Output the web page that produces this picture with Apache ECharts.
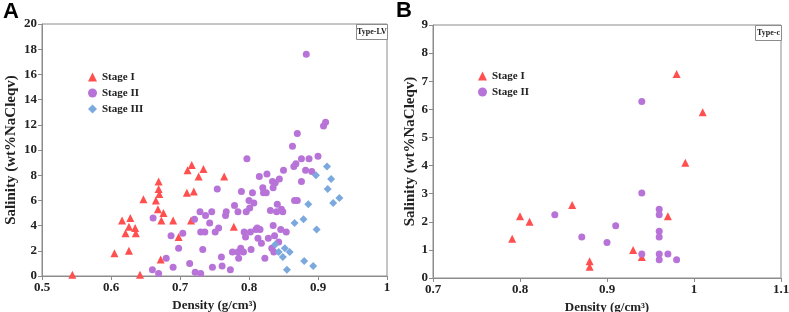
<!DOCTYPE html>
<html>
<head>
<meta charset="utf-8">
<script src="https://cdn.jsdelivr.net/npm/echarts@6/dist/echarts.min.js"></script>
<style>
    html, body {margin: 0; padding: 0; background: #fff;}
    #chart {width: 789px; height: 312px;}
</style>
</head>
<body>
<div id="chart"></div>
<script>
    // 图A：Type-LV 包裹体 [密度, 盐度]
    var stage1LV = [[0.544,0.1],[0.605,1.8],[0.616,4.4],[0.628,4.6],[0.626,3.9],[0.621,3.4],[0.635,3.8],[0.636,3.4],
        [0.626,2.0],[0.647,6.1],[0.642,0.1],[0.665,6.0],[0.669,7.5],[0.669,6.9],[0.670,6.5],[0.668,5.3],[0.676,5.0],
        [0.673,4.4],[0.672,1.3],[0.690,4.4],[0.698,3.1],[0.710,6.6],[0.711,8.4],[0.717,8.8],[0.727,7.9],[0.734,8.5],
        [0.720,6.7],[0.716,4.4],[0.764,7.9],[0.778,3.9]];
    var stage2LV = [[0.661,4.6],[0.660,0.5],[0.669,0.2],[0.680,1.4],[0.687,3.2],[0.690,0.7],[0.698,2.2],[0.704,3.4],
        [0.714,1.0],[0.721,4.5],[0.722,0.3],[0.729,5.1],[0.730,0.2],[0.730,3.5],[0.736,3.5],[0.733,2.1],[0.737,4.8],
        [0.743,4.2],[0.746,5.1],[0.747,0.7],[0.751,3.5],[0.754,6.9],[0.756,3.8],[0.760,1.5],[0.761,0.8],[0.766,4.8],
        [0.767,5.1],[0.773,0.5],[0.776,1.9],[0.779,5.6],[0.784,1.9],[0.785,1.4],[0.784,5.1],[0.788,2.2],[0.789,6.7],
        [0.792,1.9],[0.793,3.5],[0.795,3.1],[0.796,5.1],[0.797,9.3],[0.800,6.0],[0.801,5.4],[0.802,3.5],[0.803,2.1],
        [0.805,6.6],[0.807,5.8],[0.810,3.7],[0.812,3.8],[0.813,3.0],[0.815,7.9],[0.816,3.7],[0.818,2.6],[0.820,7.0],
        [0.821,6.6],[0.823,1.4],[0.825,6.6],[0.826,8.1],[0.828,3.0],[0.831,5.2],[0.833,2.2],[0.834,7.5],[0.835,7.0],
        [0.835,4.0],[0.836,1.9],[0.837,3.2],[0.838,7.4],[0.840,5.1],[0.841,5.7],[0.843,2.7],[0.844,7.7],[0.846,3.7],
        [0.847,5.3],[0.849,5.1],[0.850,8.4],[0.854,3.5],[0.863,10.3],[0.865,8.7],[0.866,6.0],[0.868,8.9],[0.870,6.0],
        [0.870,11.3],[0.876,7.5],[0.876,9.3],[0.882,8.4],[0.883,17.6],[0.887,9.3],[0.891,8.3],[0.900,9.5],[0.908,11.9],
        [0.911,12.2]];
    var stage3LV = [[0.838,2.5],[0.843,1.9],[0.849,1.5],[0.852,2.2],[0.859,1.9],[0.855,0.5],[0.866,4.2],[0.879,4.5],
        [0.886,5.7],[0.880,1.2],[0.893,0.8],[0.897,8.0],[0.898,3.7],[0.913,8.7],[0.914,6.9],[0.919,7.7],[0.922,5.8],
        [0.931,6.2]];

    // 图B：Type-c 包裹体
    var stage1C = [[0.791,1.4],[0.800,2.2],[0.811,2.0],[0.860,2.6],[0.880,0.6],[0.880,0.4],[0.930,1.0],[0.940,0.75],
        [0.970,2.2],[0.980,7.26],[0.990,4.1],[1.010,5.9]];
    var stage2C = [[0.840,2.25],[0.871,1.46],[0.900,1.26],[0.910,1.86],[0.940,6.28],[0.940,3.02],[0.940,0.85],
        [0.960,2.45],[0.960,2.25],[0.960,1.66],[0.960,1.46],[0.960,0.85],[0.960,0.65],[0.970,0.85],[0.980,0.65]];

    var legendLV = ["Stage I", "Stage II", "Stage III"];
    var legendC = ["Stage I", "Stage II"];

    var serif = "'Liberation Serif', 'Times New Roman', serif";
    var axisColor = "#8c8c8c";

    function makeAxis(idx, min, max, interval, name, nameGap, nameSize) {
        return {
            gridIndex: idx, type: "value", min: min, max: max, interval: interval,
            name: name, nameLocation: "middle", nameGap: nameGap,
            nameTextStyle: {fontFamily: serif, fontWeight: "bold", fontSize: nameSize, color: "#222"},
            axisLine: {show: true, onZero: false, lineStyle: {color: axisColor, width: 1}},
            axisTick: {show: true, length: 4, lineStyle: {color: axisColor}},
            axisLabel: {fontFamily: serif, fontWeight: "bold", fontSize: 13, color: "#222", margin: 5},
            splitLine: {show: false}
        };
    }

    function makeLegend(data, left, top) {
        return {
            data: data, orient: "vertical", left: left, top: top, itemWidth: 9, itemHeight: 9, itemGap: 4,
            textStyle: {fontFamily: serif, fontWeight: "bold", fontSize: 11, color: "#222", lineHeight: 12},
            selectedMode: false
        };
    }

    function typeBox(x, y, w, h, label) {
        return {
            type: "group", left: x, top: y,
            children: [
                {type: "rect", shape: {x: 0, y: 0, width: w, height: h}, style: {fill: "#fff", stroke: axisColor, lineWidth: 1}},
                {type: "text", x: w / 2, y: h / 2, style: {text: label, font: "bold 8px " + serif, fill: "#222",
                    align: "center", verticalAlign: "middle"}}
            ]
        };
    }

    var myChart = echarts.init(document.getElementById("chart"));
    var option = {
        animation: false,
        grid: [
            {left: 42, top: 24, width: 345, height: 252, show: true, borderColor: axisColor, borderWidth: 1,
                containLabel: false, outerBoundsMode: "none"},
            {left: 433, top: 25, width: 348, height: 253, show: true, borderColor: axisColor, borderWidth: 1,
                containLabel: false, outerBoundsMode: "none"}
        ],
        xAxis: [
            makeAxis(0, 0.5, 1, 0.1, "Density (g/cm³)", 20, 13),
            makeAxis(1, 0.7, 1.1, 0.1, "Density (g/cm³)", 19, 13)
        ],
        yAxis: [
            makeAxis(0, 0, 20, 2, "Salinity (wt%NaCleqv)", 23, 15),
            makeAxis(1, 0, 9, 1, "Salinity (wt%NaCleqv)", 15, 15)
        ],
        legend: [makeLegend(legendLV, 83, 66), makeLegend(legendC, 473, 65)],
        series: [
            {name: "Stage I", type: "scatter", xAxisIndex: 0, yAxisIndex: 0, data: stage1LV,
                symbol: "triangle", symbolSize: 8, itemStyle: {color: "#ff4f4f", opacity: 1}},
            {name: "Stage II", type: "scatter", xAxisIndex: 0, yAxisIndex: 0, data: stage2LV,
                symbol: "circle", symbolSize: 7, itemStyle: {color: "#b873d8", opacity: 1}},
            {name: "Stage III", type: "scatter", xAxisIndex: 0, yAxisIndex: 0, data: stage3LV,
                symbol: "diamond", symbolSize: 8, itemStyle: {color: "#7ba9de", opacity: 1}},
            {name: "Stage I", type: "scatter", xAxisIndex: 1, yAxisIndex: 1, data: stage1C,
                symbol: "triangle", symbolSize: 8, itemStyle: {color: "#ff4f4f", opacity: 1}},
            {name: "Stage II", type: "scatter", xAxisIndex: 1, yAxisIndex: 1, data: stage2C,
                symbol: "circle", symbolSize: 7, itemStyle: {color: "#b873d8", opacity: 1}}
        ],
        graphic: [
            typeBox(356, 24, 31, 15, "Type-LV"),
            typeBox(755, 25, 26, 15, "Type-c"),
            {type: "text", left: 3, top: 1, style: {text: "A", font: "bold 22px 'Liberation Sans', Arial, sans-serif", fill: "#000"}},
            {type: "text", left: 396, top: 0, style: {text: "B", font: "bold 22px 'Liberation Sans', Arial, sans-serif", fill: "#000"}}
        ]
    };
    myChart.setOption(option);
</script>
</body>
</html>
